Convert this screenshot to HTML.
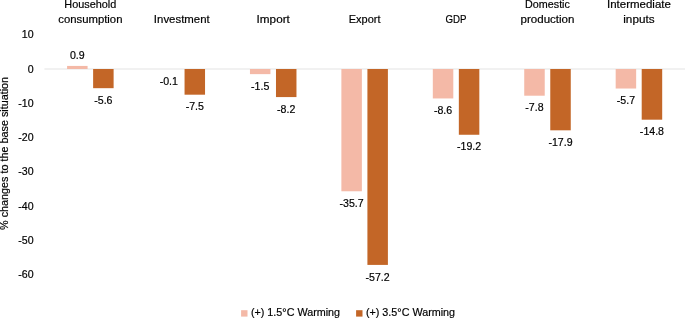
<!DOCTYPE html>
<html lang="en"><head><meta charset="utf-8"><title>Changes to the base situation</title>
<style>html,body{margin:0;padding:0;background:#fff}svg{display:block;will-change:transform}text{font-family:"Liberation Sans",Arial,sans-serif;font-size:10.6px;fill:#000000;stroke:#000000;stroke-width:.18px}</style></head>
<body><svg width="685" height="319" viewBox="0 0 685 319">
<rect x="0" y="0" width="685" height="319" fill="#ffffff"/>
<rect x="44.4" y="68.5" width="640.6" height="1" fill="#E3E3E3"/>
<rect x="67.09" y="65.92" width="20.49" height="3.08" fill="#F4B9A7"/>
<text x="77.34" y="59.32" text-anchor="middle">0.9</text>
<rect x="93.12" y="69.00" width="20.49" height="19.18" fill="#C36627"/>
<text x="103.36" y="103.88" text-anchor="middle">-5.6</text>
<text x="90.35" y="8.10" text-anchor="middle" textLength="52.0" lengthAdjust="spacingAndGlyphs">Household</text>
<text x="90.35" y="22.90" text-anchor="middle" textLength="64.2" lengthAdjust="spacingAndGlyphs">consumption</text>
<text x="168.77" y="85.04" text-anchor="middle">-0.1</text>
<rect x="184.55" y="69.00" width="20.49" height="25.69" fill="#C36627"/>
<text x="194.79" y="110.39" text-anchor="middle">-7.5</text>
<text x="181.78" y="22.90" text-anchor="middle" textLength="55.8" lengthAdjust="spacingAndGlyphs">Investment</text>
<rect x="249.95" y="69.00" width="20.49" height="5.14" fill="#F4B9A7"/>
<text x="260.20" y="89.84" text-anchor="middle">-1.5</text>
<rect x="275.98" y="69.00" width="20.49" height="28.08" fill="#C36627"/>
<text x="286.22" y="112.78" text-anchor="middle">-8.2</text>
<text x="273.21" y="22.90" text-anchor="middle" textLength="33.2" lengthAdjust="spacingAndGlyphs">Import</text>
<rect x="341.38" y="69.00" width="20.49" height="122.27" fill="#F4B9A7"/>
<text x="351.63" y="206.97" text-anchor="middle">-35.7</text>
<rect x="367.41" y="69.00" width="20.49" height="195.91" fill="#C36627"/>
<text x="377.65" y="280.61" text-anchor="middle">-57.2</text>
<text x="364.64" y="22.90" text-anchor="middle" textLength="31.7" lengthAdjust="spacingAndGlyphs">Export</text>
<rect x="432.81" y="69.00" width="20.49" height="29.45" fill="#F4B9A7"/>
<text x="443.06" y="114.16" text-anchor="middle">-8.6</text>
<rect x="458.84" y="69.00" width="20.49" height="65.76" fill="#C36627"/>
<text x="469.08" y="150.46" text-anchor="middle">-19.2</text>
<text x="456.07" y="22.90" text-anchor="middle" textLength="21.0" lengthAdjust="spacingAndGlyphs">GDP</text>
<rect x="524.24" y="69.00" width="20.49" height="26.71" fill="#F4B9A7"/>
<text x="534.49" y="111.42" text-anchor="middle">-7.8</text>
<rect x="550.27" y="69.00" width="20.49" height="61.31" fill="#C36627"/>
<text x="560.51" y="146.01" text-anchor="middle">-17.9</text>
<text x="547.50" y="8.10" text-anchor="middle" textLength="44.8" lengthAdjust="spacingAndGlyphs">Domestic</text>
<text x="547.50" y="22.90" text-anchor="middle" textLength="53.9" lengthAdjust="spacingAndGlyphs">production</text>
<rect x="615.67" y="69.00" width="20.49" height="19.52" fill="#F4B9A7"/>
<text x="625.92" y="104.22" text-anchor="middle">-5.7</text>
<rect x="641.70" y="69.00" width="20.49" height="50.69" fill="#C36627"/>
<text x="651.94" y="135.39" text-anchor="middle">-14.8</text>
<text x="638.93" y="8.10" text-anchor="middle" textLength="63.9" lengthAdjust="spacingAndGlyphs">Intermediate</text>
<text x="638.93" y="22.90" text-anchor="middle" textLength="31.3" lengthAdjust="spacingAndGlyphs">inputs</text>
<text x="33.6" y="38.35" text-anchor="end">10</text>
<text x="33.6" y="72.60" text-anchor="end">0</text>
<text x="33.6" y="106.85" text-anchor="end">-10</text>
<text x="33.6" y="141.10" text-anchor="end">-20</text>
<text x="33.6" y="175.35" text-anchor="end">-30</text>
<text x="33.6" y="209.60" text-anchor="end">-40</text>
<text x="33.6" y="243.85" text-anchor="end">-50</text>
<text x="33.6" y="278.10" text-anchor="end">-60</text>
<text transform="translate(7.9 153.4) rotate(-90)" text-anchor="middle" textLength="153" lengthAdjust="spacingAndGlyphs">% changes to the base situation</text>
<rect x="241.1" y="310.2" width="6.4" height="6.4" fill="#F4B9A7"/>
<text x="250.9" y="316.3" textLength="89.2" lengthAdjust="spacingAndGlyphs">(+) 1.5°C Warming</text>
<rect x="356.1" y="310.2" width="6.4" height="6.4" fill="#C36627"/>
<text x="365.9" y="316.3" textLength="89.2" lengthAdjust="spacingAndGlyphs">(+) 3.5°C Warming</text>
</svg></body></html>
